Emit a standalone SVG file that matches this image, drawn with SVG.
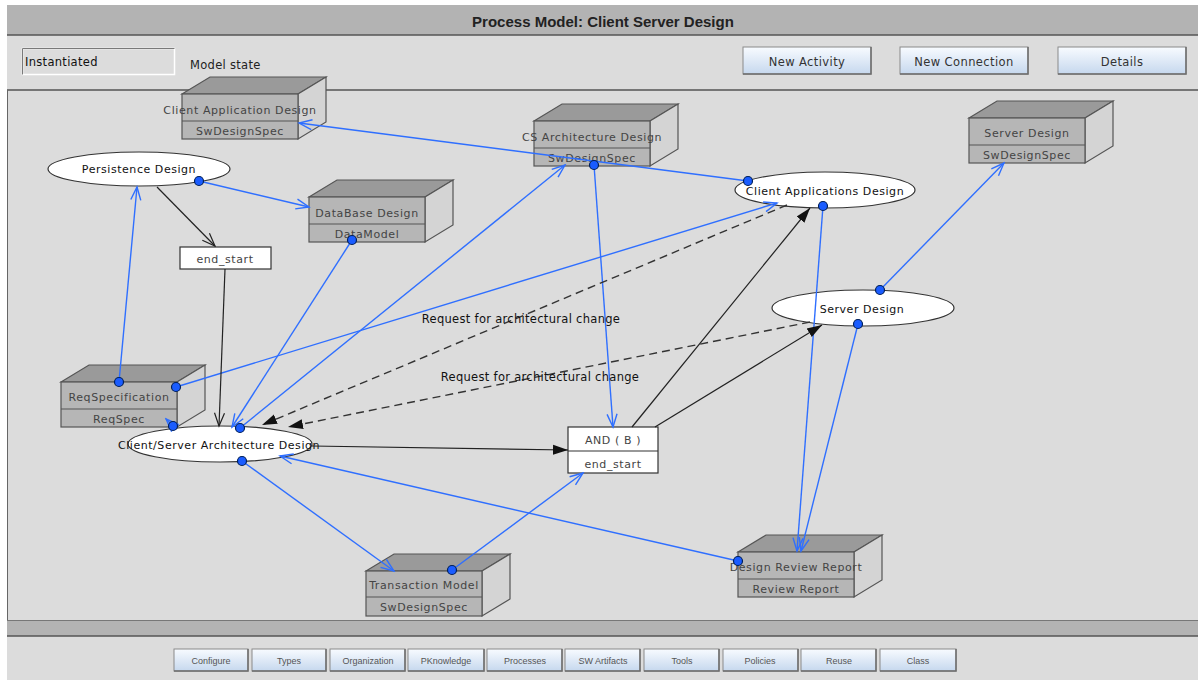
<svg xmlns="http://www.w3.org/2000/svg" width="1198" height="680" viewBox="0 0 1198 680">
  <style>
    .ui { font-family: "DejaVu Sans", "Liberation Sans", sans-serif; }
    .title { font-family: "Liberation Sans", Arial, sans-serif; font-weight: bold; font-size: 15px; fill: #222; }
    .btn { fill: url(#btnGrad); stroke: #8a8a8a; stroke-width: 1; }
    .btnShadow { fill: none; stroke: #6e6e6e; stroke-width: 1.5; }
    .btnText { font-family: "DejaVu Sans", sans-serif; font-size: 11.5px; fill: #333; text-anchor: middle; letter-spacing: 0.4px; }
    .tabText { font-family: "Liberation Sans", sans-serif; font-size: 9px; fill: #555; text-anchor: middle; }
    .boxTop { fill: #9a9a9a; stroke: #555; stroke-width: 1.2; }
    .boxSide { fill: #d4d4d4; stroke: #555; stroke-width: 1.2; }
    .boxFront { fill: #b6b6b6; stroke: #555; stroke-width: 1.2; }
    .boxText { font-family: "DejaVu Sans", sans-serif; font-size: 11px; fill: #444; text-anchor: middle; letter-spacing: 0.6px; }
    .ell { fill: #ffffff; stroke: #333; stroke-width: 1.2; }
    .ellText { font-family: "DejaVu Sans", sans-serif; font-size: 11px; fill: #111; text-anchor: middle; letter-spacing: 0.55px; }
    .rectNode { fill: #ffffff; stroke: #333; stroke-width: 1.2; }
    .blue { stroke: #2f6fff; stroke-width: 1.4; fill: none; marker-end: url(#openBlue); }
    .black { stroke: #222; stroke-width: 1.2; fill: none; }
    .dashed { stroke: #333; stroke-width: 1.4; fill: none; stroke-dasharray: 8 5; marker-end: url(#solidBlack); }
    .dot { fill: #1a5cff; stroke: #00205a; stroke-width: 1.2; }
    .edgeLabel { font-family: "DejaVu Sans", sans-serif; font-size: 11.5px; fill: #111; text-anchor: middle; letter-spacing: 0.3px; }
  </style>
  <defs>
    <linearGradient id="btnGrad" x1="0" y1="0" x2="0" y2="1">
      <stop offset="0" stop-color="#f8fbff"/>
      <stop offset="1" stop-color="#c6d8ee"/>
    </linearGradient>
    <marker id="openBlue" markerWidth="16" markerHeight="12" refX="14" refY="6" orient="auto" markerUnits="userSpaceOnUse">
      <path d="M1,1 L14,6 L1,11" fill="none" stroke="#2f6fff" stroke-width="1.4"/>
    </marker>
    <marker id="openBlack" markerWidth="16" markerHeight="12" refX="14" refY="6" orient="auto" markerUnits="userSpaceOnUse">
      <path d="M1,1 L14,6 L1,11" fill="none" stroke="#222" stroke-width="1.2"/>
    </marker>
    <marker id="solidBlack" markerWidth="16" markerHeight="12" refX="15" refY="6" orient="auto" markerUnits="userSpaceOnUse">
      <path d="M0,1 L15,6 L0,11 Z" fill="#111"/>
    </marker>
  </defs>

  <!-- window background -->
  <rect x="0" y="0" width="1198" height="680" fill="#ffffff"/>
  <rect x="7" y="5" width="1191" height="675" fill="#dcdcdc"/>

  <!-- title bar -->
  <rect x="7" y="5" width="1191" height="30" fill="#b3b3b3"/>
  <line x1="7" y1="35" x2="1198" y2="35" stroke="#555" stroke-width="1.5"/>
  <text class="title" x="603" y="27" text-anchor="middle">Process Model: Client Server Design</text>

  <!-- toolbar -->
  <rect x="22.5" y="48.5" width="152" height="26" fill="#dcdcdc" stroke="#fff" stroke-width="1.5"/>
  <path d="M22.5,74.5 L22.5,48.5 L174.5,48.5" fill="none" stroke="#7a7a7a" stroke-width="1"/>
  <text class="ui" x="25" y="66" font-size="11.5" fill="#111" letter-spacing="0.3">Instantiated</text>
  <text class="ui" x="190" y="69" font-size="11.5" fill="#222" letter-spacing="0.3">Model state</text>

  <g id="btn-new-activity">
    <rect class="btn" x="743" y="47" width="128" height="27"/>
    <path class="btnShadow" d="M743,74 L871,74 L871,47"/>
    <text class="btnText" x="807" y="66">New Activity</text>
  </g>
  <g id="btn-new-connection">
    <rect class="btn" x="900" y="47" width="128" height="27"/>
    <path class="btnShadow" d="M900,74 L1028,74 L1028,47"/>
    <text class="btnText" x="964" y="66">New Connection</text>
  </g>
  <g id="btn-details">
    <rect class="btn" x="1058" y="47" width="128" height="27"/>
    <path class="btnShadow" d="M1058,74 L1186,74 L1186,47"/>
    <text class="btnText" x="1122" y="66">Details</text>
  </g>
  <line x1="7" y1="90" x2="1198" y2="90" stroke="#555" stroke-width="1.5"/>

  <!-- canvas frame -->
  <line x1="7.5" y1="90" x2="7.5" y2="620" stroke="#666" stroke-width="1"/>
  <rect x="7" y="620" width="1191" height="16" fill="#b3b3b3"/>
  <line x1="7" y1="620.5" x2="1198" y2="620.5" stroke="#777" stroke-width="1"/>
  <line x1="7" y1="636" x2="1198" y2="636" stroke="#555" stroke-width="1.5"/>

  <!-- artifact boxes -->
  <g id="node-client-application-design">
    <polygon class="boxTop" points="182,94 210,77 326,77 298,94"/>
    <polygon class="boxSide" points="298,94 326,77 326,122 298,139"/>
    <rect class="boxFront" x="182" y="94" width="116" height="45"/>
    <line x1="182" y1="121" x2="298" y2="121" stroke="#555" stroke-width="1.2"/>
    <text class="boxText" x="240" y="114">Client Application Design</text>
    <text class="boxText" x="240" y="135">SwDesignSpec</text>
  </g>
  <g id="node-database-design">
    <polygon class="boxTop" points="309,197 337,180 453,180 425,197"/>
    <polygon class="boxSide" points="425,197 453,180 453,225 425,242"/>
    <rect class="boxFront" x="309" y="197" width="116" height="45"/>
    <line x1="309" y1="224" x2="425" y2="224" stroke="#555" stroke-width="1.2"/>
    <text class="boxText" x="367" y="217">DataBase Design</text>
    <text class="boxText" x="367" y="238">DataModel</text>
  </g>
  <g id="node-cs-architecture-design">
    <polygon class="boxTop" points="534,121 562,104 678,104 650,121"/>
    <polygon class="boxSide" points="650,121 678,104 678,149 650,166"/>
    <rect class="boxFront" x="534" y="121" width="116" height="45"/>
    <line x1="534" y1="148" x2="650" y2="148" stroke="#555" stroke-width="1.2"/>
    <text class="boxText" x="592" y="141">CS Architecture Design</text>
    <text class="boxText" x="592" y="162">SwDesignSpec</text>
  </g>
  <g id="node-server-design-spec">
    <polygon class="boxTop" points="969,118 997,101 1113,101 1085,118"/>
    <polygon class="boxSide" points="1085,118 1113,101 1113,146 1085,163"/>
    <rect class="boxFront" x="969" y="118" width="116" height="45"/>
    <line x1="969" y1="145" x2="1085" y2="145" stroke="#555" stroke-width="1.2"/>
    <text class="boxText" x="1027" y="137">Server Design</text>
    <text class="boxText" x="1027" y="159">SwDesignSpec</text>
  </g>
  <g id="node-reqspecification">
    <polygon class="boxTop" points="61,382 89,365 205,365 177,382"/>
    <polygon class="boxSide" points="177,382 205,365 205,410 177,427"/>
    <rect class="boxFront" x="61" y="382" width="116" height="45"/>
    <line x1="61" y1="409" x2="177" y2="409" stroke="#555" stroke-width="1.2"/>
    <text class="boxText" x="119" y="401">ReqSpecification</text>
    <text class="boxText" x="119" y="423">ReqSpec</text>
  </g>
  <g id="node-transaction-model">
    <polygon class="boxTop" points="366,571 394,554 510,554 482,571"/>
    <polygon class="boxSide" points="482,571 510,554 510,599 482,616"/>
    <rect class="boxFront" x="366" y="571" width="116" height="45"/>
    <line x1="366" y1="597" x2="482" y2="597" stroke="#555" stroke-width="1.2"/>
    <text class="boxText" x="424" y="589">Transaction Model</text>
    <text class="boxText" x="424" y="611">SwDesignSpec</text>
  </g>
  <g id="node-design-review-report">
    <polygon class="boxTop" points="738,552 766,535 882,535 854,552"/>
    <polygon class="boxSide" points="854,552 882,535 882,580 854,597"/>
    <rect class="boxFront" x="738" y="552" width="116" height="45"/>
    <line x1="738" y1="579" x2="854" y2="579" stroke="#555" stroke-width="1.2"/>
    <text class="boxText" x="796" y="571">Design Review Report</text>
    <text class="boxText" x="796" y="593">Review Report</text>
  </g>

  <!-- activities -->
  <g id="node-persistence-design">
    <ellipse class="ell" cx="139" cy="169" rx="91" ry="17"/>
    <text class="ellText" x="139" y="173">Persistence Design</text>
  </g>
  <g id="node-client-applications-design">
    <ellipse class="ell" cx="825" cy="190" rx="90" ry="18"/>
    <text class="ellText" x="825" y="195">Client Applications Design</text>
  </g>
  <g id="node-server-design">
    <ellipse class="ell" cx="863" cy="308" rx="91" ry="18"/>
    <text class="ellText" x="862" y="313">Server Design</text>
  </g>
  <g id="node-client-server-architecture-design">
    <ellipse class="ell" cx="220" cy="444" rx="92" ry="18"/>
    <text class="ellText" x="219" y="449">Client/Server Architecture Design</text>
  </g>

  <!-- control nodes -->
  <g id="node-end-start">
    <rect class="rectNode" x="180" y="247" width="91" height="22"/>
    <text class="boxText" x="225" y="263">end_start</text>
  </g>
  <g id="node-and-b">
    <rect class="rectNode" x="568" y="427" width="90" height="46"/>
    <line x1="568" y1="451" x2="658" y2="451" stroke="#333" stroke-width="1.2"/>
    <text class="boxText" x="613" y="444">AND ( B )</text>
    <text class="boxText" x="613" y="468">end_start</text>
  </g>

  <!-- connectors -->
  <g id="connectors">
    <!-- product / input flows -->
    <line class="blue" x1="748" y1="181" x2="299" y2="123"/>
    <line class="blue" x1="199" y1="181" x2="309" y2="207"/>
    <line class="blue" x1="352" y1="240" x2="232" y2="427"/>
    <line class="blue" x1="119" y1="382" x2="137" y2="187"/>
    <line class="blue" x1="176" y1="387" x2="777" y2="203"/>
    <line class="blue" x1="240" y1="428" x2="565" y2="165"/>
    <line class="blue" x1="594" y1="165" x2="613" y2="427"/>
    <line class="blue" x1="823" y1="206" x2="797" y2="551"/>
    <line class="blue" x1="858" y1="324" x2="801" y2="551"/>
    <line class="blue" x1="880" y1="290" x2="1004" y2="163"/>
    <line class="blue" x1="242" y1="461" x2="394" y2="571"/>
    <line class="blue" x1="452" y1="570" x2="583" y2="473"/>
    <line class="blue" x1="738" y1="561" x2="280" y2="456"/>
    <line class="blue" x1="173" y1="426" x2="166" y2="419"/>

    <!-- control flows -->
    <line class="black" x1="157" y1="187" x2="215" y2="246" marker-end="url(#openBlack)"/>
    <line class="black" x1="225" y1="269" x2="219" y2="426" marker-end="url(#openBlack)"/>
    <line class="black" x1="312" y1="446" x2="568" y2="450" marker-end="url(#solidBlack)"/>
    <line class="black" x1="632" y1="427" x2="810" y2="208" marker-end="url(#solidBlack)"/>
    <line class="black" x1="655" y1="427" x2="822" y2="325" marker-end="url(#solidBlack)"/>

    <!-- change requests -->
    <line class="dashed" x1="787" y1="205" x2="262" y2="425"/>
    <line class="dashed" x1="810" y1="322" x2="288" y2="427"/>
    <text class="edgeLabel" x="521" y="323">Request for architectural change</text>
    <text class="edgeLabel" x="540" y="381">Request for architectural change</text>

    <!-- source ports -->
    <circle class="dot" cx="748" cy="181" r="4.5"/>
    <circle class="dot" cx="199" cy="181" r="4.5"/>
    <circle class="dot" cx="352" cy="240" r="4.5"/>
    <circle class="dot" cx="119" cy="382" r="4.5"/>
    <circle class="dot" cx="176" cy="387" r="4.5"/>
    <circle class="dot" cx="240" cy="428" r="4.5"/>
    <circle class="dot" cx="594" cy="165" r="4.5"/>
    <circle class="dot" cx="823" cy="206" r="4.5"/>
    <circle class="dot" cx="858" cy="324" r="4.5"/>
    <circle class="dot" cx="880" cy="290" r="4.5"/>
    <circle class="dot" cx="242" cy="461" r="4.5"/>
    <circle class="dot" cx="452" cy="570" r="4.5"/>
    <circle class="dot" cx="738" cy="561" r="4.5"/>
    <circle class="dot" cx="173" cy="426" r="4.5"/>
  </g>

  <!-- navigation tabs -->
  <g id="tabs">
    <g id="tab-configure"><rect class="btn" x="174" y="649" width="74" height="22"/><path class="btnShadow" d="M174,671 L248,671 L248,649"/><text class="tabText" x="211" y="664">Configure</text></g>
    <g id="tab-types"><rect class="btn" x="252" y="649" width="74" height="22"/><path class="btnShadow" d="M252,671 L326,671 L326,649"/><text class="tabText" x="289" y="664">Types</text></g>
    <g id="tab-organization"><rect class="btn" x="330" y="649" width="75" height="22"/><path class="btnShadow" d="M330,671 L405,671 L405,649"/><text class="tabText" x="368" y="664">Organization</text></g>
    <g id="tab-pknowledge"><rect class="btn" x="408" y="649" width="76" height="22"/><path class="btnShadow" d="M408,671 L484,671 L484,649"/><text class="tabText" x="446" y="664">PKnowledge</text></g>
    <g id="tab-processes"><rect class="btn" x="487" y="649" width="75" height="22"/><path class="btnShadow" d="M487,671 L562,671 L562,649"/><text class="tabText" x="525" y="664">Processes</text></g>
    <g id="tab-sw-artifacts"><rect class="btn" x="565" y="649" width="75" height="22"/><path class="btnShadow" d="M565,671 L640,671 L640,649"/><text class="tabText" x="603" y="664">SW Artifacts</text></g>
    <g id="tab-tools"><rect class="btn" x="644" y="649" width="75" height="22"/><path class="btnShadow" d="M644,671 L719,671 L719,649"/><text class="tabText" x="682" y="664">Tools</text></g>
    <g id="tab-policies"><rect class="btn" x="723" y="649" width="75" height="22"/><path class="btnShadow" d="M723,671 L798,671 L798,649"/><text class="tabText" x="760" y="664">Policies</text></g>
    <g id="tab-reuse"><rect class="btn" x="801" y="649" width="75" height="22"/><path class="btnShadow" d="M801,671 L876,671 L876,649"/><text class="tabText" x="839" y="664">Reuse</text></g>
    <g id="tab-class"><rect class="btn" x="880" y="649" width="76" height="22"/><path class="btnShadow" d="M880,671 L956,671 L956,649"/><text class="tabText" x="918" y="664">Class</text></g>
  </g>
</svg>
